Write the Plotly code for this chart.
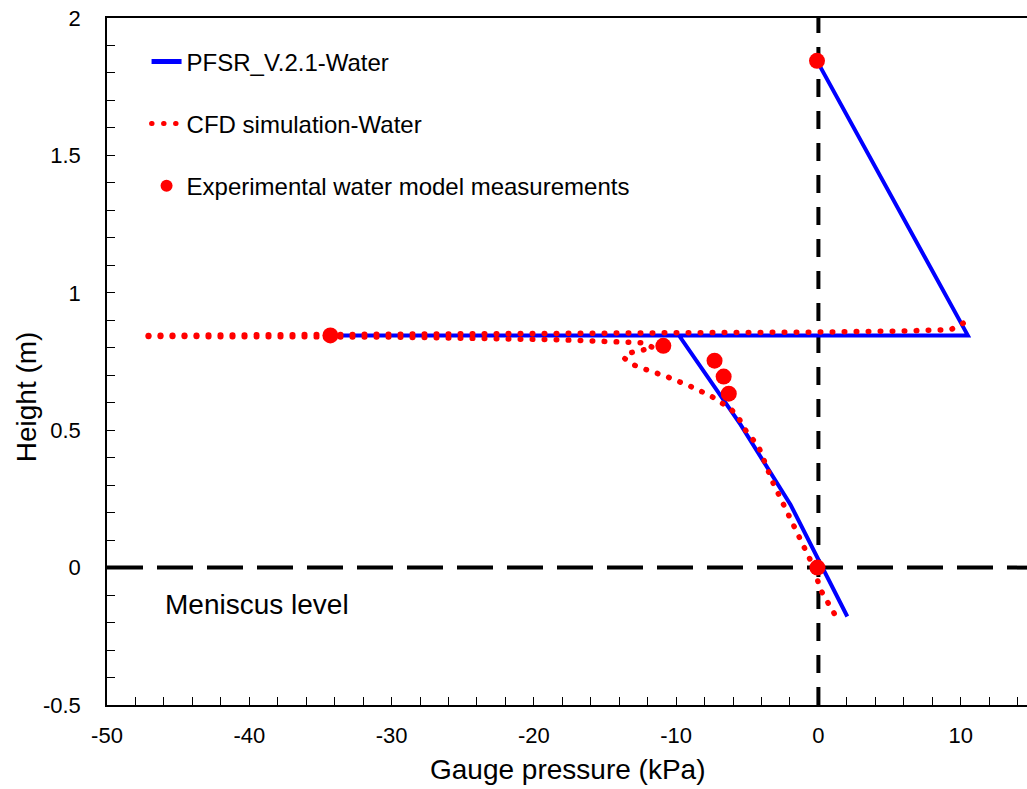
import plotly.graph_objects as go

# PFSR_V.2.1-Water (blue solid)
pfsr_x = [-0.1, 10.5, -34.3, -9.8, -5.47, -1.96, 2.03]
pfsr_y = [1.844, 0.845, 0.845, 0.845, 0.52, 0.229, -0.178]

# CFD simulation-Water (red dotted) - upper profile
cfd1_x = [-47.1, -30.0, -15.0, 0.0, 6.0, 9.3, 10.2]
cfd1_y = [0.845, 0.848, 0.852, 0.857, 0.861, 0.866, 0.89]

# CFD simulation-Water - lower profile
cfd2_x = [-47.1, -30.0, -18.1, -12.3, -11.6, -12.4, -13.2, -13.7, -13.0, -12.3, -10.66,
          -9.1, -7.57, -6.17, -5.6, -5.26, -4.2, -3.23, -2.52, -1.82, -1.12, -0.35,
          0.14, 0.84, 1.4]
cfd2_y = [0.841, 0.839, 0.829, 0.818, 0.80, 0.789, 0.782, 0.764, 0.738, 0.724, 0.695,
          0.662, 0.625, 0.578, 0.545, 0.509, 0.44, 0.313, 0.236, 0.156, 0.076, 0.004,
          -0.08, -0.142, -0.193]

# Experimental water model measurements
exp_x = [-0.1, -34.3, -10.9, -7.3, -6.66, -6.3, -0.07]
exp_y = [1.844, 0.845, 0.807, 0.753, 0.695, 0.633, 0.0]

# Tick values and labels
x_tickvals = [-50, -40, -30, -20, -10, 0, 10]
x_ticktext = ["-50", "-40", "-30", "-20", "-10", "0", "10"]
y_tickvals = [-0.5, 0, 0.5, 1, 1.5, 2]
y_ticktext = ["-0.5", "0", "0.5", "1", "1.5", "2"]

x_ref = 0.0   # vertical dashed line
y_ref = 0.0   # meniscus level
x_range = [-50, 14.66]
y_range = [-0.5, 2]

FONT = "Liberation Sans, Arial, sans-serif"
DOT = "0.5px,11.5px"

fig = go.Figure()
fig.add_trace(go.Scatter(x=pfsr_x, y=pfsr_y, mode="lines", name="PFSR_V.2.1-Water",
                         line=dict(color="#0000FF", width=4), legendgroup="a"))
fig.add_trace(go.Scatter(x=cfd1_x, y=cfd1_y, mode="lines", name="CFD simulation-Water",
                         line=dict(color="#FF0000", width=5.5, dash=DOT), legendgroup="b"))
fig.add_trace(go.Scatter(x=cfd2_x, y=cfd2_y, mode="lines", name="CFD simulation-Water",
                         line=dict(color="#FF0000", width=5.5, dash=DOT), legendgroup="b",
                         showlegend=False))
fig.add_trace(go.Scatter(x=exp_x, y=exp_y, mode="markers",
                         name="Experimental water model measurements",
                         marker=dict(color="#FF0000", size=16), legendgroup="c"))

fig.add_shape(type="line", xref="x", yref="y", x0=x_ref, x1=x_ref, y0=y_range[0], y1=y_range[1],
              line=dict(color="black", width=4, dash="18px,14px"), layer="below")
fig.add_shape(type="line", xref="x", yref="y", x0=x_range[0], x1=x_range[1], y0=y_ref, y1=y_ref,
              line=dict(color="black", width=4, dash="36px,14px"), layer="below")

fig.add_annotation(x=-46.07, y=-0.135, xref="x", yref="y", text="Meniscus level",
                   showarrow=False, xanchor="left", yanchor="middle",
                   font=dict(family=FONT, size=28, color="black"))
fig.add_annotation(x=-0.088, y=0.448, xref="paper", yref="paper", text="Height (m)",
                   showarrow=False, textangle=-90, xanchor="center", yanchor="middle",
                   font=dict(family=FONT, size=28, color="black"))
fig.add_annotation(x=0.5, y=-0.0946, xref="paper", yref="paper", text="Gauge pressure (kPa)",
                   showarrow=False, xanchor="center", yanchor="middle",
                   font=dict(family=FONT, size=28, color="black"))

fig.update_layout(
    width=1027, height=789,
    margin=dict(l=107, r=0, t=18, b=84),
    paper_bgcolor="white", plot_bgcolor="white",
    font=dict(family=FONT, color="black"),
    showlegend=True,
    legend=dict(x=0.043, y=0.969, xanchor="left", yanchor="top",
                bgcolor="rgba(0,0,0,0)", font=dict(family=FONT, size=24, color="black"),
                traceorder="grouped", tracegroupgap=28, itemsizing="constant"),
)
fig.update_xaxes(range=x_range, showgrid=False, zeroline=False, showline=True,
                 linecolor="black", linewidth=1.5, mirror=True,
                 ticks="inside", ticklen=8, tickwidth=1.2, tickcolor="black",
                 tickmode="array", tickvals=x_tickvals, ticktext=x_ticktext,
                 ticklabelstandoff=10,
                 tickfont=dict(family=FONT, size=22, color="black"),
                 minor=dict(dtick=2, tick0=0, ticks="inside", ticklen=8, tickwidth=1.2,
                            tickcolor="black"))
fig.update_yaxes(range=y_range, showgrid=False, zeroline=False, showline=True,
                 linecolor="black", linewidth=1.5, mirror=False,
                 ticks="inside", ticklen=8, tickwidth=1.2, tickcolor="black",
                 tickmode="array", tickvals=y_tickvals, ticktext=y_ticktext,
                 ticklabelstandoff=20,
                 tickfont=dict(family=FONT, size=22, color="black"),
                 minor=dict(dtick=0.1, tick0=0, ticks="inside", ticklen=8, tickwidth=1.2,
                            tickcolor="black"))

post = """
document.querySelectorAll('path').forEach(function(p){
  var d = p.style.strokeDasharray || '';
  if (d.indexOf('11.5') >= 0) { p.style.strokeLinecap = 'round'; }
});
"""
fig.write_html("out.html", post_script=post)
